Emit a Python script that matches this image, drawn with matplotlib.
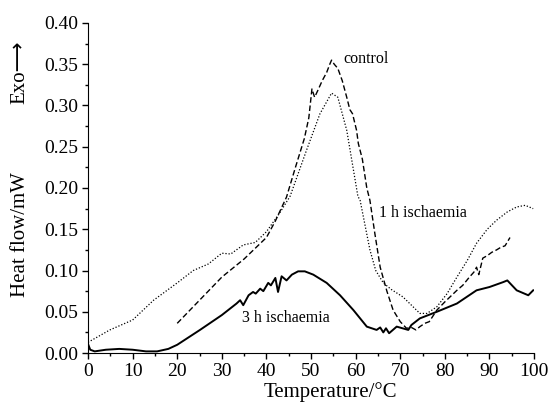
import numpy as np
import matplotlib.pyplot as plt
from matplotlib.ticker import MultipleLocator, FormatStrFormatter

plt.rcParams['font.family'] = ['Liberation Serif', 'DejaVu Serif']

# control (dashed)
ctrl_t = [20, 25, 30, 35, 40, 42, 44.5, 46.5, 48.5, 49.5, 50.2, 50.8, 51.5, 52.5, 53.5,
          54.2, 54.6, 55.2, 56, 57, 58, 58.7, 59.3, 60.2, 60.6, 61.5, 62.5, 63.2, 64.3,
          65.5, 67, 68.4, 70, 71.4, 72.5, 73.5, 74.4, 75.5, 76.5, 78.2, 80, 82.7, 84,
          85.5, 86.5, 87.1, 87.6, 88.5, 89.5, 90.5, 91.6, 92.5, 93.5, 94.6]
ctrl_q = [0.036, 0.064, 0.092, 0.114, 0.14, 0.16, 0.189, 0.225, 0.26, 0.285, 0.32, 0.31,
          0.318, 0.33, 0.34, 0.35, 0.355, 0.35, 0.345, 0.33, 0.31, 0.295, 0.29, 0.27,
          0.254, 0.235, 0.2, 0.185, 0.145, 0.104, 0.075, 0.052, 0.038, 0.030, 0.031,
          0.028, 0.032, 0.036, 0.038, 0.052, 0.062, 0.076, 0.082, 0.092, 0.098, 0.104,
          0.095, 0.115, 0.118, 0.122, 0.125, 0.128, 0.13, 0.14]

# 1 h ischaemia (dotted)
h1_t = [0, 4.9, 10, 14.7, 20, 23.6, 27, 30, 32, 34.8, 37.5, 40, 43, 45.3, 49, 52,
        54.6, 56, 58, 60.5, 61, 63.2, 64.5, 66.2, 68, 70.6, 72.5, 74.4, 76, 78.2,
        80.5, 82.7, 85, 87.1, 89.5, 91.6, 94, 96.1, 98, 99.8]
h1_q = [0.013, 0.028, 0.040, 0.064, 0.085, 0.10, 0.108, 0.121, 0.12, 0.131, 0.134,
        0.147, 0.17, 0.19, 0.246, 0.29, 0.315, 0.31, 0.27, 0.19, 0.185, 0.125, 0.1,
        0.085, 0.077, 0.068, 0.058, 0.048, 0.048, 0.056, 0.072, 0.092, 0.112, 0.133,
        0.15, 0.161, 0.171, 0.177, 0.179, 0.175]

# 3 h ischaemia (solid)
h3_t = [0, 0.5, 1.5, 4, 7, 10, 13, 15.5, 18, 20, 25.1, 30, 33.3, 34.1, 34.8, 36,
        37, 37.6, 38.6, 39.3, 40.4, 41, 42, 42.6, 43.4, 44.5, 45.7, 47.1, 48.6, 50.5,
        53.5, 56.5, 59.5, 62.5, 64.7, 65.5, 66.2, 66.8, 67.5, 69.2, 70.5, 71.8, 72.5,
        74.4, 78.2, 82.7, 87.1, 90, 93.1, 94, 96.1, 98.7, 99.8]
h3_q = [0.011, 0.004, 0.002, 0.004, 0.005, 0.004, 0.002, 0.002, 0.005, 0.010, 0.028,
        0.046, 0.060, 0.064, 0.058, 0.070, 0.074, 0.072, 0.078, 0.075, 0.085, 0.082,
        0.091, 0.074, 0.093, 0.088, 0.095, 0.099, 0.099, 0.095, 0.085, 0.070, 0.052,
        0.032, 0.028, 0.031, 0.025, 0.030, 0.024, 0.032, 0.030, 0.028, 0.034, 0.042,
        0.050, 0.060, 0.076, 0.080, 0.086, 0.088, 0.076, 0.070, 0.076]

fig = plt.figure(figsize=(5.48, 4.03), dpi=100)
ax = fig.add_axes([0.1606, 0.124, 0.814, 0.819])

ax.plot(ctrl_t, ctrl_q, color='black', lw=1.0, ls=(0, (4, 2)))
ax.plot(h1_t, h1_q, color='black', lw=0.9, ls=(0, (1, 1.5)))
ax.plot(h3_t, h3_q, color='black', lw=1.4, ls='-')

ax.text(57.3, 0.356, 'control', fontsize=11.5, va='center', ha='left')
ax.text(65.3, 0.170, '1 h ischaemia', fontsize=11.5, va='center', ha='left')
ax.text(34.5, 0.042, '3 h ischaemia', fontsize=11.5, va='center', ha='left')

ax.set_xlim(0, 100)
ax.set_ylim(0, 0.40)
ax.xaxis.set_major_locator(MultipleLocator(10))
ax.xaxis.set_minor_locator(MultipleLocator(5))
ax.yaxis.set_major_locator(MultipleLocator(0.05))
ax.yaxis.set_minor_locator(MultipleLocator(0.025))
ax.yaxis.set_major_formatter(FormatStrFormatter('%.2f'))
ax.spines['top'].set_visible(False)
ax.spines['right'].set_visible(False)
ax.tick_params(which='major', direction='out', length=4, width=1, labelsize=14, pad=3)
ax.tick_params(which='minor', direction='out', length=2.5, width=1)

ax.set_xlabel('Temperature/°C', fontsize=15, va='bottom')
ax.xaxis.set_label_coords(0.543, -0.1485)
ax.set_ylabel('Heat flow/mW', fontsize=15)
ax.yaxis.set_label_coords(-0.13, 0.36)
fig.text(0.037, 0.82, 'Exo\u27f6', fontsize=15, rotation=90, ha='center', va='center',
         family=['Liberation Serif', 'DejaVu Sans'])

fig.savefig('out.png', dpi=100)
